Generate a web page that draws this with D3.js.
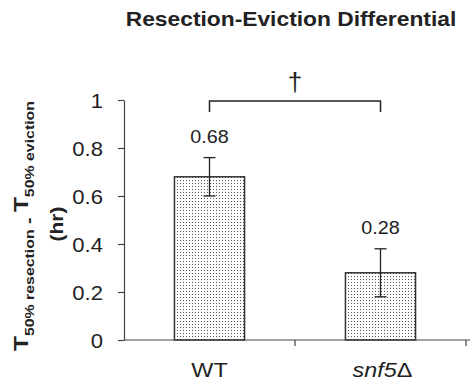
<!DOCTYPE html>
<html>
<head>
<meta charset="utf-8">
<script src="https://cdn.jsdelivr.net/npm/d3@7"></script>
<style>
  body { margin: 0; background: #fff; }
  text { font-family: Arial, "Liberation Sans", sans-serif; fill: #222; }
</style>
</head>
<body>
<div id="chart"></div>
<script>
// chart values
const categories = ['WT', 'snf5']
const means = [0.68, 0.28]
const errors = [0.08, 0.10]
const valueLabels = ['0.68', '0.28']
const yTicks = [0, 0.2, 0.4, 0.6, 0.8, 1]
const yTickLabels = ['0', '0.2', '0.4', '0.6', '0.8', '1']

const width = 470, height = 385

const svg = d3.select('#chart').append('svg')
  .attr('width', width)
  .attr('height', height)

// stippled fill for the bars
const pat = svg.append('defs').append('pattern')
  .attr('id', 'dots')
  .attr('patternUnits', 'userSpaceOnUse')
  .attr('width', 3).attr('height', 3)
pat.append('rect').attr('width', 3).attr('height', 3).attr('fill', '#fff')
pat.append('rect').attr('width', 1).attr('height', 1).attr('fill', '#555')

const x = d3.scaleBand().domain(categories).range([124, 466])
const y = d3.scaleLinear().domain([0, 1]).range([340, 100])
const barW = x.step() * 0.41
const cx = d => x(d) + x.step() / 2

// text that is a bit wider than normal, like the original figure
function label(g, px, py, txt, size, sx, opts = {}) {
  return g.append('text')
    .attr('transform', `translate(${px},${py}) scale(${sx},1)`)
    .attr('text-anchor', opts.anchor || 'middle')
    .attr('font-size', size)
    .attr('font-weight', opts.bold ? 'bold' : null)
    .text(txt)
}

// title
label(svg, 291, 26, 'Resection-Eviction Differential', 20, 1.14, {bold: true})

// y axis
const yAxis = svg.append('g')
  .attr('transform', 'translate(124,0)')
  .call(d3.axisLeft(y).tickValues(yTicks).tickSize(6).tickSizeOuter(0).tickFormat(''))
yAxis.selectAll('path, line').attr('stroke', '#444').attr('stroke-width', 1.2)
yTicks.forEach((t, i) => label(svg, 103, y(t) + 7.5, yTickLabels[i], 21, 1.05, {anchor: 'end'}))

// y axis title
const yl = svg.append('text')
  .attr('transform', 'translate(28,226) rotate(-90) scale(1.22,1)')
  .attr('text-anchor', 'middle')
  .attr('font-weight', 'bold')
yl.append('tspan').attr('font-size', 20).text('T')
yl.append('tspan').attr('font-size', 13).attr('dy', 6).text('50% resection')
yl.append('tspan').attr('font-size', 16).text(' - ')
yl.append('tspan').attr('font-size', 20).attr('dy', -6).text('T')
yl.append('tspan').attr('font-size', 13).attr('dy', 6).text('50% eviction')
svg.append('text')
  .attr('transform', 'translate(63,224) rotate(-90) scale(1.1,1)')
  .attr('text-anchor', 'middle')
  .attr('font-weight', 'bold')
  .attr('font-size', 19)
  .text('(hr)')

// bars
svg.selectAll('rect.bar')
  .data(categories)
  .join('rect')
  .attr('class', 'bar')
  .attr('x', d => cx(d) - barW / 2)
  .attr('width', barW)
  .attr('y', (d, i) => y(means[i]))
  .attr('height', (d, i) => y(0) - y(means[i]))
  .attr('fill', 'url(#dots)')
  .attr('stroke', '#333')
  .attr('stroke-width', 1.5)

// error bars
const eb = svg.selectAll('g.err')
  .data(categories)
  .join('g')
  .attr('class', 'err')
  .attr('stroke', '#222')
  .attr('stroke-width', 1.3)
eb.append('line')
  .attr('x1', d => cx(d)).attr('x2', d => cx(d))
  .attr('y1', (d, i) => y(means[i] + errors[i]))
  .attr('y2', (d, i) => y(means[i] - errors[i]))
eb.each(function (d, i) {
  [means[i] + errors[i], means[i] - errors[i]].forEach(v => {
    d3.select(this).append('line')
      .attr('x1', cx(d) - 6).attr('x2', cx(d) + 6)
      .attr('y1', y(v)).attr('y2', y(v))
  })
})

// value labels
categories.forEach((c, i) => {
  label(svg, cx(c), y(means[i] + errors[i]) - 15, valueLabels[i], 18, 1.1).attr('fill', '#333')
})

// x axis
svg.append('line')
  .attr('x1', 124).attr('x2', 470)
  .attr('y1', y(0)).attr('y2', y(0))
  .attr('stroke', '#444').attr('stroke-width', 1.2)
categories.forEach(c => {
  svg.append('line')
    .attr('x1', x(c) + x.step()).attr('x2', x(c) + x.step())
    .attr('y1', y(0)).attr('y2', y(0) + 6)
    .attr('stroke', '#444').attr('stroke-width', 1.2)
})
label(svg, cx('WT'), 377, 'WT', 20, 1.17)
const xl = svg.append('text')
  .attr('transform', `translate(${cx('snf5') + 2},377) scale(1.17,1)`)
  .attr('text-anchor', 'middle')
  .attr('font-size', 20)
xl.append('tspan').attr('font-style', 'italic').text('snf5')
xl.append('tspan').text('\u0394')

// significance bracket
const by = 101
svg.append('path')
  .attr('d', `M${cx('WT')},${by + 11}V${by}H${cx('snf5')}V${by + 11}`)
  .attr('fill', 'none')
  .attr('stroke', '#222')
  .attr('stroke-width', 1.5)
label(svg, (cx('WT') + cx('snf5')) / 2, 91, '\u2020', 26, 1)
</script>
</body>
</html>
